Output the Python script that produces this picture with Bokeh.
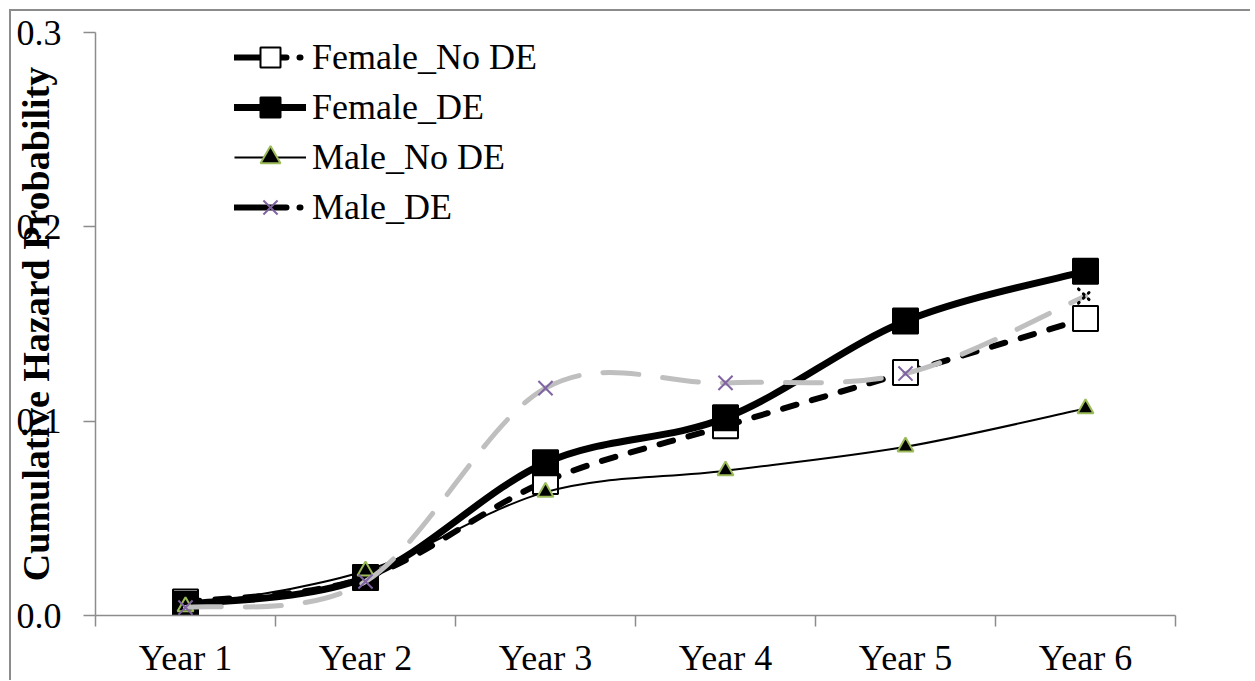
from bokeh.plotting import figure
from bokeh.models import Range1d, FixedTicker, Legend, LegendItem, ColumnDataSource
from bokeh.embed import file_html
from bokeh.resources import INLINE

years = ["Year 1", "Year 2", "Year 3", "Year 4", "Year 5", "Year 6"]
female_no_de = [0.0069, 0.0195, 0.069, 0.0976, 0.125, 0.1528]
female_de = [0.0057, 0.0195, 0.0786, 0.1017, 0.1515, 0.1772]
male_no_de = [0.0046, 0.0230, 0.0635, 0.0745, 0.0868, 0.1065]
male_de = [0.0041, 0.0175, 0.117, 0.1197, 0.1245, 0.1644]
y_ticks = [0.0, 0.1, 0.2, 0.3]

FONT = "Liberation Serif"
AXIS_GRAY = "#8c8c8c"
xs = list(range(1, len(years) + 1))
NAN = float("nan")


def smooth_segments(xv, yv):
    """Excel-like smoothed line: cubic Bezier segments through the data points."""
    n = len(xv)
    d = dict(x0=[], y0=[], x1=[], y1=[], cx0=[], cy0=[], cx1=[], cy1=[])
    for i in range(n - 1):
        i0 = max(i - 1, 0)
        i3 = min(i + 2, n - 1)
        d["x0"].append(xv[i]); d["y0"].append(yv[i])
        d["x1"].append(xv[i + 1]); d["y1"].append(yv[i + 1])
        d["cx0"].append(xv[i] + (xv[i + 1] - xv[i0]) / 6.0)
        d["cy0"].append(yv[i] + (yv[i + 1] - yv[i0]) / 6.0)
        d["cx1"].append(xv[i + 1] - (xv[i3] - xv[i]) / 6.0)
        d["cy1"].append(yv[i + 1] - (yv[i3] - yv[i]) / 6.0)
    return ColumnDataSource(d)


W, H = 1250, 680
p = figure(width=W, height=H, x_range=Range1d(0.5, len(years) + 0.5), y_range=Range1d(0, 0.3),
           output_backend="svg", toolbar_location=None,
           min_border_left=95, min_border_right=75, min_border_top=32, min_border_bottom=40)
p.styles = {
    "background-image": "linear-gradient(#8c8c8c, #8c8c8c), linear-gradient(#8c8c8c, #8c8c8c)",
    "background-size": "2px 100%, 100% 2px",
    "background-position": "9px 9px, 9px 9px",
    "background-repeat": "no-repeat",
}
p.grid.visible = False
p.outline_line_color = None
p.background_fill_color = "white"
p.border_fill_color = None

# x axis
xa = p.xaxis[0]
xa.ticker = FixedTicker(ticks=xs, minor_ticks=[v - 0.5 for v in xs] + [xs[-1] + 0.5])
xa.major_label_overrides = {v: years[i] for i, v in enumerate(xs)}
xa.major_tick_out = 0
xa.major_tick_in = 0
xa.minor_tick_out = 11
xa.minor_tick_in = 0
xa.minor_tick_line_color = AXIS_GRAY
xa.minor_tick_line_width = 1.5
xa.axis_line_color = AXIS_GRAY
xa.axis_line_width = 1.5
xa.major_label_text_font = FONT
xa.major_label_text_font_size = "36px"
xa.major_label_text_color = "black"
xa.major_label_standoff = 11

# y axis
ya = p.yaxis[0]
ya.ticker = FixedTicker(ticks=y_ticks, minor_ticks=[])
ya.major_label_overrides = {v: f"{v:.1f}" for v in y_ticks}
ya.bounds = (0, 0.3)
ya.major_tick_out = 12
ya.major_tick_in = 0
ya.major_tick_line_color = AXIS_GRAY
ya.major_tick_line_width = 1.5
ya.axis_line_color = AXIS_GRAY
ya.axis_line_width = 1.5
ya.major_label_text_font = FONT
ya.major_label_text_font_size = "36px"
ya.major_label_text_color = "black"
ya.major_label_standoff = 22
ya.axis_label = "Cumulative Hazard Probability"
ya.axis_label_text_font = FONT
ya.axis_label_text_font_size = "38px"
ya.axis_label_text_font_style = "bold"
ya.axis_label_text_color = "black"
ya.axis_label_standoff = -43

GRAY = "#bfbfbf"
PURPLE = "#8064a2"
GREEN = "#9bbb59"

# Female_No DE
p.bezier(x0="x0", y0="y0", x1="x1", y1="y1", cx0="cx0", cy0="cy0", cx1="cx1", cy1="cy1",
         source=smooth_segments(xs, female_no_de), line_color="black", line_width=6,
         line_dash="14 16", line_cap="round")
r1 = p.scatter(xs, female_no_de, marker="square", size=25, fill_color="white",
               line_color="black", line_width=2)
# Female_DE
p.bezier(x0="x0", y0="y0", x1="x1", y1="y1", cx0="cx0", cy0="cy0", cx1="cx1", cy1="cy1",
         source=smooth_segments(xs, female_de), line_color="black", line_width=7, line_cap="round")
r2 = p.scatter(xs, female_de, marker="square", size=25, fill_color="black",
               line_color="black", line_width=2)
# Male_No DE
p.bezier(x0="x0", y0="y0", x1="x1", y1="y1", cx0="cx0", cy0="cy0", cx1="cx1", cy1="cy1",
         source=smooth_segments(xs, male_no_de), line_color="black", line_width=2)
r3 = p.scatter(xs, male_no_de, marker="triangle", size=16, fill_color="black",
               line_color=GREEN, line_width=2)
# Male_DE
p.bezier(x0="x0", y0="y0", x1="x1", y1="y1", cx0="cx0", cy0="cy0", cx1="cx1", cy1="cy1",
         source=smooth_segments(xs, male_de), line_color=GRAY, line_width=5,
         line_dash="36 24", line_cap="round")
r4 = p.scatter(xs[:-1], male_de[:-1], marker="x", size=20, line_color=PURPLE, line_width=2)
# last Male_DE marker is drawn as a dotted black cross in the original
p.scatter(xs[-1:], male_de[-1:], marker="x", size=20, line_color="black", line_width=3,
          line_dash="1 6", line_cap="round")

# legend sample lines (no visible data)
l1 = p.line([NAN], [NAN], line_color="black", line_width=6, line_dash="52 13 1 30", line_cap="round")
l2 = p.line([NAN], [NAN], line_color="black", line_width=7, line_cap="round")
l3 = p.line([NAN], [NAN], line_color="black", line_width=2)
l4 = p.line([NAN], [NAN], line_color="black", line_width=6, line_dash="52 13 1 30", line_cap="round")

legend = Legend(items=[
    LegendItem(label="Female_No DE", renderers=[l1, r1]),
    LegendItem(label="Female_DE", renderers=[l2, r2]),
    LegendItem(label="Male_No DE", renderers=[l3, r3]),
    LegendItem(label="Male_DE", renderers=[l4, r4]),
], location=(139, 383), orientation="vertical")
legend.glyph_width = 72
legend.glyph_height = 50
legend.label_height = 50
legend.spacing = 0
legend.padding = 0
legend.margin = 0
legend.label_standoff = 6
legend.label_text_font = FONT
legend.label_text_font_size = "36px"
legend.label_text_color = "black"
legend.border_line_color = None
legend.background_fill_alpha = 0
p.add_layout(legend)

open("out.html", "w").write(file_html(p, INLINE))
